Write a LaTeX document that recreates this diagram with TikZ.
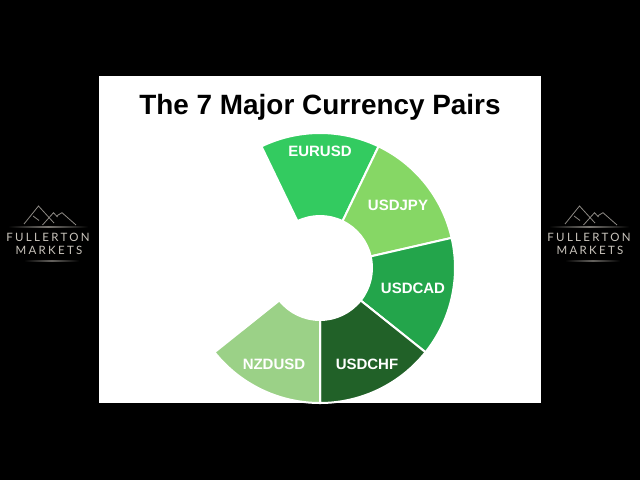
\documentclass[tikz,border=0pt]{standalone}
\usepackage{fontspec}
\usetikzlibrary{calc}
\setmainfont{Liberation Sans}
\newfontfamily\logofont[LetterSpace=20]{Lato}

\definecolor{eurgreen}{HTML}{33CB60}
\definecolor{jpygreen}{HTML}{86D765}
\definecolor{cadgreen}{HTML}{23A54B}
\definecolor{chfgreen}{HTML}{216128}
\definecolor{nzdgreen}{HTML}{9BD187}
\definecolor{logogrey}{HTML}{C9C4BC}

\tikzset{
	pairlabel/.style={text=white,font=\fontsize{15}{15}\selectfont\bfseries,inner sep=0pt},
	sector/.style={draw=white,line width=2pt,line join=miter},
	logotext/.style={text=logogrey,font=\logofont\fontsize{11.5}{11.5}\selectfont,inner sep=0pt},
	peak/.style={line width=0.8pt,draw=logogrey!70!black},
	logo/.pic={
		\draw [peak] (-24,-18)--(-9.5,0)--(6,-17);
		\draw [peak] (-15,-10)--(-9,-14.5);
		\draw [peak] (-5.5,-19)--(5.5,-6.7)--(9.5,-11);
		\draw [peak] (8.5,-10)--(14,-6.7)--(28,-19);
		\shade [left color=black,right color=black,middle color=logogrey!60!black] (-40,-22) rectangle (40,-21);
		\shade [left color=black,right color=black,middle color=logogrey!50!black] (-24,-55) rectangle (31,-54);
		\node [logotext] (fullerton) at (0,-31.5) {FULLERTON};
		\node [logotext] (markets) at (1,-44.5) {MARKETS};
	}
}

\begin{document}
\begin{tikzpicture}[x=1pt,y=1pt]
	\fill [black] (0,0) rectangle (640,480);
	\fill [white] (99,77) rectangle (541,404);

	\node [font=\fontsize{27.9}{27.9}\selectfont\bfseries,inner sep=0pt] (title) at (320,373) {The 7 Major Currency Pairs};

	\coordinate (O) at (320,212);

	% sectors, clockwise from the top
	\filldraw [sector,fill=eurgreen] ($(O)+(64.3:52)$)--($(O)+(64.3:135)$) arc (64.3:115.7:135)--($(O)+(115.7:52)$) arc (115.7:64.3:52)--cycle;
	\filldraw [sector,fill=jpygreen] ($(O)+(12.9:52)$)--($(O)+(12.9:135)$) arc (12.9:64.3:135)--($(O)+(64.3:52)$) arc (64.3:12.9:52)--cycle;
	\filldraw [sector,fill=cadgreen] ($(O)+(-38.6:52)$)--($(O)+(-38.6:135)$) arc (-38.6:12.9:135)--($(O)+(12.9:52)$) arc (12.9:-38.6:52)--cycle;
	\filldraw [sector,fill=chfgreen] ($(O)+(-90:52)$)--($(O)+(-90:135)$) arc (-90:-38.6:135)--($(O)+(-38.6:52)$) arc (-38.6:-90:52)--cycle;
	\filldraw [sector,fill=nzdgreen] ($(O)+(-141.4:52)$)--($(O)+(-141.4:135)$) arc (-141.4:-90:135)--($(O)+(-90:52)$) arc (-90:-141.4:52)--cycle;

	\node [pairlabel] (eurusd) at (320,329) {EURUSD};
	\node [pairlabel] (usdjpy) at (398,275) {USDJPY};
	\node [pairlabel] (usdcad) at (413,192) {USDCAD};
	\node [pairlabel] (usdchf) at (367,115.5) {USDCHF};
	\node [pairlabel] (nzdusd) at (274,115.5) {NZDUSD};

	\pic (leftlogo) at (48,274) {logo};
	\pic (rightlogo) at (589,274) {logo};
\end{tikzpicture}
\end{document}
